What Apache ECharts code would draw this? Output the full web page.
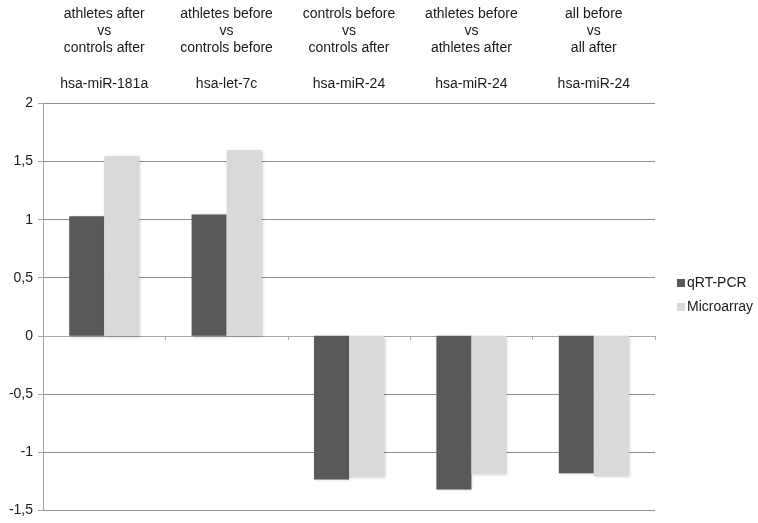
<!DOCTYPE html>
<html>
<head>
<meta charset="utf-8">
<script src="https://cdn.jsdelivr.net/npm/echarts@6/dist/echarts.min.js"></script>
<style>
html,body{margin:0;padding:0;background:#fff;}
#chart{width:758px;height:523px;}
</style>
</head>
<body>
<div id="chart"></div>
<script>
const comparisons = [
  'athletes after\nvs\ncontrols after',
  'athletes before\nvs\ncontrols before',
  'controls before\nvs\ncontrols after',
  'athletes before\nvs\nathletes after',
  'all before\nvs\nall after'
];
const genes = ['hsa-miR-181a', 'hsa-let-7c', 'hsa-miR-24', 'hsa-miR-24', 'hsa-miR-24'];
const qrtpcr = [1.03, 1.045, -1.237, -1.323, -1.183];
const microarray = [1.546, 1.6, -1.214, -1.19, -1.209];
const seriesNames = ['qRT-PCR', 'Microarray'];

const font = '"Liberation Sans", Arial, sans-serif';
const chart = echarts.init(document.getElementById('chart'));
const barShadow = {shadowBlur: 3, shadowOffsetX: 1, shadowOffsetY: 1, shadowColor: 'rgba(0,0,0,0.22)'};

chart.setOption({
  animation: false,
  backgroundColor: '#fff',
  textStyle: {fontFamily: font},
  grid: {left: 43, right: 103, top: 103.5, bottom: 13},
  legend: {
    orient: 'vertical',
    left: 672,
    top: 271,
    itemWidth: 8,
    itemHeight: 8,
    itemGap: 10,
    icon: 'rect',
    textStyle: {fontSize: 14, color: '#1a1a1a', fontFamily: font, padding: [0, 0, 0, -3]},
    data: seriesNames
  },
  xAxis: [
    {
      type: 'category',
      data: comparisons,
      axisLine: {onZero: true, lineStyle: {color: '#a6a6a6', width: 1}},
      axisTick: {show: true, length: 4, lineStyle: {color: '#a6a6a6'}},
      axisLabel: {show: false},
      splitLine: {show: false}
    },
    {
      type: 'category',
      data: comparisons,
      position: 'top',
      axisLine: {show: false},
      axisTick: {show: false},
      axisLabel: {show: true, interval: 0, margin: 47, fontSize: 14, lineHeight: 17, color: '#1a1a1a', fontFamily: font}
    },
    {
      type: 'category',
      data: genes,
      position: 'top',
      axisLine: {show: false},
      axisTick: {show: false},
      axisLabel: {show: true, interval: 0, margin: 12, fontSize: 14, color: '#1a1a1a', fontFamily: font}
    }
  ],
  yAxis: {
    type: 'value',
    min: -1.5,
    max: 2,
    interval: 0.5,
    axisLine: {show: true, lineStyle: {color: '#a6a6a6'}},
    axisTick: {show: true, length: 5, lineStyle: {color: '#a6a6a6'}},
    axisLabel: {fontSize: 14, color: '#1a1a1a', margin: 10, fontFamily: font,
      formatter: v => String(v).replace('.', ',')},
    splitLine: {show: true, lineStyle: {color: '#8f8f8f', width: 1}}
  },
  series: [
    {
      name: seriesNames[0], type: 'bar', xAxisIndex: 0, data: qrtpcr,
      barWidth: 35, barGap: '0%',
      itemStyle: Object.assign({color: '#595959'}, barShadow)
    },
    {
      name: seriesNames[1], type: 'bar', xAxisIndex: 0, data: microarray,
      barWidth: 35, barGap: '0%',
      itemStyle: Object.assign({color: '#d9d9d9'}, barShadow)
    }
  ]
});
</script>
</body>
</html>
